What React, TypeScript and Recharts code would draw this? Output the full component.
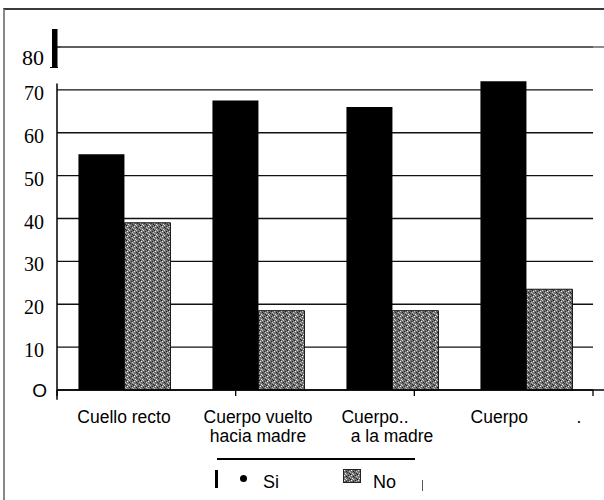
import { Bar, BarChart, CartesianGrid, Legend, ReferenceLine, XAxis, YAxis } from "recharts"

const categories = [
  "Cuello recto",
  "Cuerpo vuelto\nhacia madre",
  "Cuerpo..       \na la madre",
  "Cuerpo          .",
]
const siValues = [55, 67.5, 66, 72]
const noValues = [39, 18.5, 18.5, 23.5]
const yTicks = [0, 10, 20, 30, 40, 50, 60, 70, 80]
const yTickLabels = ["O", "10", "20", "30", "40", "50", "60", "70", "80"]
const seriesNames = ["Si", "No"]

const data = categories.map((name, i) => ({ name, si: siValues[i], no: noValues[i] }))
const boundaries = categories.map((_, i) => i).concat(categories.length)

const SANS = "'Liberation Sans', Arial, sans-serif"
const SERIF = "'Liberation Serif', 'Times New Roman', serif"

function YTick({ x, y, payload }: any) {
  const v = payload.value as number
  const label = yTickLabels[yTicks.indexOf(v)]
  if (v === 80) {
    return (
      <g>
        <rect x={x + 7} y={y - 18} width={5.5} height={39} fill="#000" />
        <rect x={x + 5} y={y + 20} width={8} height={1} fill="#000" />
        <text x={x - 1} y={y + 18} textAnchor="end" fontFamily={SERIF} fontSize={22} fill="#000">
          {label}
        </text>
      </g>
    )
  }
  if (v === 0) {
    return (
      <text x={x + 2} y={y + 7} textAnchor="end" fontFamily={SANS} fontSize={19} fill="#000">
        {label}
      </text>
    )
  }
  return (
    <text x={x - 1} y={y + 10} textAnchor="end" fontFamily={SERIF} fontSize={20} fill="#000">
      {label}
    </text>
  )
}

function CategoryTick({ x, y, payload }: any) {
  const lines = String(payload.value).split("\n")
  return (
    <text textAnchor="middle" fontFamily={SANS} fontSize={17.5} fill="#000" style={{ whiteSpace: "pre" }}>
      {lines.map((line, i) => (
        <tspan key={i} x={x} y={y + 32.5 + i * 19.5}>
          {line}
        </tspan>
      ))}
    </text>
  )
}

function NoSwatch() {
  return (
    <svg width={18} height={14} style={{ display: "block" }}>
      <rect x={0.5} y={0.5} width={17} height={13} fill="url(#noPat)" stroke="#222" />
    </svg>
  )
}

function ChartLegend() {
  const text = { position: "absolute" as const, fontFamily: SANS, fontSize: 18, lineHeight: "18px", color: "#000" }
  return (
    <div style={{ position: "relative", width: 604, height: 52 }}>
      <div style={{ position: "absolute", left: 217, top: 10, width: 198, height: 1.5, background: "#000" }} />
      <div style={{ position: "absolute", left: 215, top: 22, width: 3, height: 18, background: "#000" }} />
      <div style={{ position: "absolute", left: 240, top: 27, width: 7, height: 7, borderRadius: "50%", background: "#000" }} />
      <span style={{ ...text, left: 263, top: 25 }}>{seriesNames[0]}</span>
      <div style={{ position: "absolute", left: 343, top: 21 }}>
        <NoSwatch />
      </div>
      <span style={{ ...text, left: 373, top: 25 }}>{seriesNames[1]}</span>
      <div style={{ position: "absolute", left: 422, top: 32, width: 1, height: 11, background: "#555" }} />
    </div>
  )
}

export default function App() {
  return (
    <div style={{ position: "absolute", left: 0, top: 0, width: 604, height: 500, background: "#fff" }}>
      <div
        style={{
          position: "absolute",
          left: 3,
          top: 8,
          width: 601,
          height: 492,
          borderTop: "2px solid #3a3a3a",
          borderLeft: "2px solid #888",
          boxSizing: "border-box",
          pointerEvents: "none",
        }}
      />
      <BarChart
        width={604}
        height={500}
        data={data}
        margin={{ top: 47, right: 11, left: 0, bottom: 0 }}
        barCategoryGap="16%"
        barGap={0}
      >
        <defs>
          <pattern id="noPat" patternUnits="userSpaceOnUse" width={7} height={5}>
            <rect width={7} height={5} fill="#727272" />
            <rect x={0} y={0} width={1} height={1} fill="#1c1c1c" />
            <rect x={3} y={0} width={1} height={1} fill="#d0d0d0" />
            <rect x={5} y={1} width={1} height={1} fill="#2a2a2a" />
            <rect x={1} y={1} width={1} height={1} fill="#f0f0f0" />
            <rect x={3} y={2} width={1} height={1} fill="#1e1e1e" />
            <rect x={6} y={2} width={1} height={1} fill="#c4c4c4" />
            <rect x={0} y={3} width={1} height={1} fill="#b8b8b8" />
            <rect x={4} y={3} width={1} height={1} fill="#333" />
            <rect x={2} y={4} width={1} height={1} fill="#e6e6e6" />
            <rect x={6} y={4} width={1} height={1} fill="#262626" />
          </pattern>
        </defs>
        <CartesianGrid vertical={false} stroke="#111" strokeWidth={1.4} />
        <XAxis
          dataKey="name"
          height={58}
          axisLine={false}
          tickLine={false}
          tickSize={0}
          tickMargin={0}
          interval={0}
          tick={<CategoryTick />}
        />
        <XAxis xAxisId="n" type="number" domain={[0, categories.length]} allowDataOverflow hide />
        <YAxis
          width={57}
          domain={[0, 80]}
          ticks={yTicks}
          axisLine={false}
          tickLine={false}
          tickSize={0}
          tickMargin={12}
          interval={0}
          tick={<YTick />}
        />
        <ReferenceLine
          xAxisId="n"
          segment={[{ x: 0.02, y: 80 }, { x: 4.1, y: 80 }]}
          stroke="#666"
          strokeWidth={1.6}
          ifOverflow="visible"
        />
        <Bar dataKey="si" name={seriesNames[0]} fill="#000" isAnimationActive={false} />
        <Bar dataKey="no" name={seriesNames[1]} fill="url(#noPat)" stroke="#111" strokeWidth={1} isAnimationActive={false} />
        <ReferenceLine
          xAxisId="n"
          segment={[{ x: 0, y: 0 }, { x: 4, y: 0 }]}
          stroke="#000"
          strokeWidth={1.5}
          ifOverflow="visible"
        />
        <ReferenceLine
          xAxisId="n"
          segment={[{ x: 0, y: -2.3 }, { x: 0, y: 71.5 }]}
          stroke="#000"
          strokeWidth={1.5}
          ifOverflow="visible"
        />
        <ReferenceLine
          xAxisId="n"
          segment={[{ x: 4, y: -1.4 }, { x: 4, y: 71.5 }]}
          stroke="#222"
          strokeWidth={1.5}
          ifOverflow="visible"
        />
        {boundaries.map((b) => (
          <ReferenceLine
            key={b}
            xAxisId="n"
            segment={[{ x: b, y: 0 }, { x: b, y: -1.4 }]}
            stroke="#000"
            strokeWidth={1.3}
            ifOverflow="visible"
          />
        ))}
        <Legend verticalAlign="bottom" wrapperStyle={{ left: 0, bottom: 0, width: 604 }} content={() => <ChartLegend />} />
      </BarChart>
    </div>
  )
}
